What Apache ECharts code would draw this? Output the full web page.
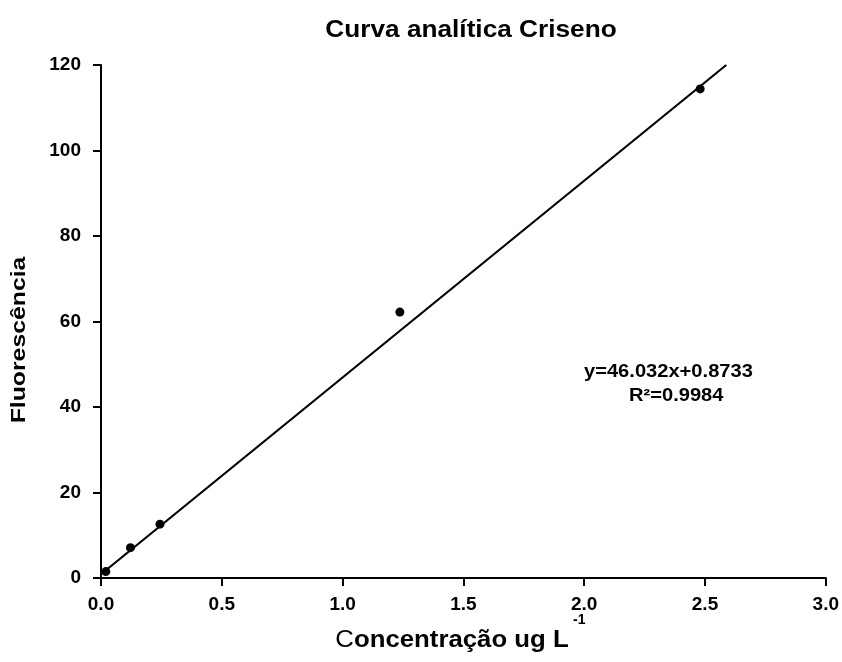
<!DOCTYPE html>
<html><head><meta charset="utf-8">
<script src="https://cdn.jsdelivr.net/npm/echarts@6/dist/echarts.min.js"></script>
<style>html,body{margin:0;padding:0;background:#fff}#c{width:842px;height:662px}</style>
</head><body><div id="c"></div>
<script>
var title = 'Curva analítica Criseno';
var xNameFirst = 'C';
var xNameRest = 'oncentração ug L';
var xNameSup = '-1';
var yName = 'Fluorescência';
var concX = [0.02, 0.122, 0.244, 1.237, 2.48];
var fluorY = [1.5, 7.1, 12.6, 62.2, 114.4];
var fitX = [0, 2.588];
var fitY = [0.8733, 120];
var eqText = 'y=46.032x+0.8733';
var r2Text = 'R²=0.9984';

var chart = echarts.init(document.getElementById('c'));
var font = '"Liberation Sans", Arial, sans-serif';
chart.setOption({
  animation: false,
  grid: {left: 101, right: 12, top: 65, bottom: 84},
  xAxis: {type: 'value', min: 0, max: 3, interval: 0.5,
    axisLine: {lineStyle: {color: '#000', width: 2}},
    axisTick: {length: 8, lineStyle: {color: '#000', width: 2}},
    axisLabel: {fontFamily: font, fontWeight: 'bold', fontSize: 19, color: '#000', margin: 17,
      formatter: function(v){return v.toFixed(1);}},
    splitLine: {show: false}},
  yAxis: {type: 'value', min: 0, max: 120, interval: 20,
    axisLine: {show: true, lineStyle: {color: '#000', width: 2}},
    axisTick: {show: true, length: 8, lineStyle: {color: '#000', width: 2}},
    axisLabel: {fontFamily: font, fontWeight: 'bold', fontSize: 19, color: '#000', margin: 20},
    splitLine: {show: false}},
  series: [
    {type: 'line', data: fitX.map(function(x,i){return [x, fitY[i]];}),
      showSymbol: false, symbol: 'none', lineStyle: {color: '#000', width: 2.2}, z: 2},
    {type: 'scatter', data: concX.map(function(x,i){return [x, fluorY[i]];}),
      symbol: 'circle', symbolSize: 9, itemStyle: {color: '#000', opacity: 1}, z: 3}
  ],
  graphic: [
    {type: 'text', x: 471, y: 31, scaleX: 1.14,
      style: {text: title, fontFamily: font, fontWeight: 'bold', fontSize: 23, fill: '#000', align: 'center', verticalAlign: 'middle'}},
    {type: 'text', x: 584, y: 372, scaleX: 1.1,
      style: {text: eqText, fontFamily: font, fontWeight: 'bold', fontSize: 18.3, fill: '#000', align: 'left', verticalAlign: 'middle'}},
    {type: 'text', x: 629, y: 396, scaleX: 1.1,
      style: {text: r2Text, fontFamily: font, fontWeight: 'bold', fontSize: 18.3, fill: '#000', align: 'left', verticalAlign: 'middle'}},
    {type: 'text', x: 19, y: 340, rotation: Math.PI / 2, scaleX: 1.18,
      style: {text: yName, fontFamily: font, fontWeight: 'bold', fontSize: 21, fill: '#000', align: 'center', verticalAlign: 'middle'}},
    {type: 'text', x: 452, y: 641, scaleX: 1.12,
      style: {text: '{c|' + xNameFirst + '}{b|' + xNameRest + '}',
        align: 'center', verticalAlign: 'middle', fill: '#000',
        rich: {
          c: {fontFamily: font, fontWeight: 'normal', fontSize: 23},
          b: {fontFamily: font, fontWeight: 'bold', fontSize: 23}
        }}},
    {type: 'text', x: 573, y: 620,
      style: {text: xNameSup, fontFamily: font, fontWeight: 'bold', fontSize: 14, fill: '#000', align: 'left', verticalAlign: 'middle'}}
  ]
});
</script></body></html>
